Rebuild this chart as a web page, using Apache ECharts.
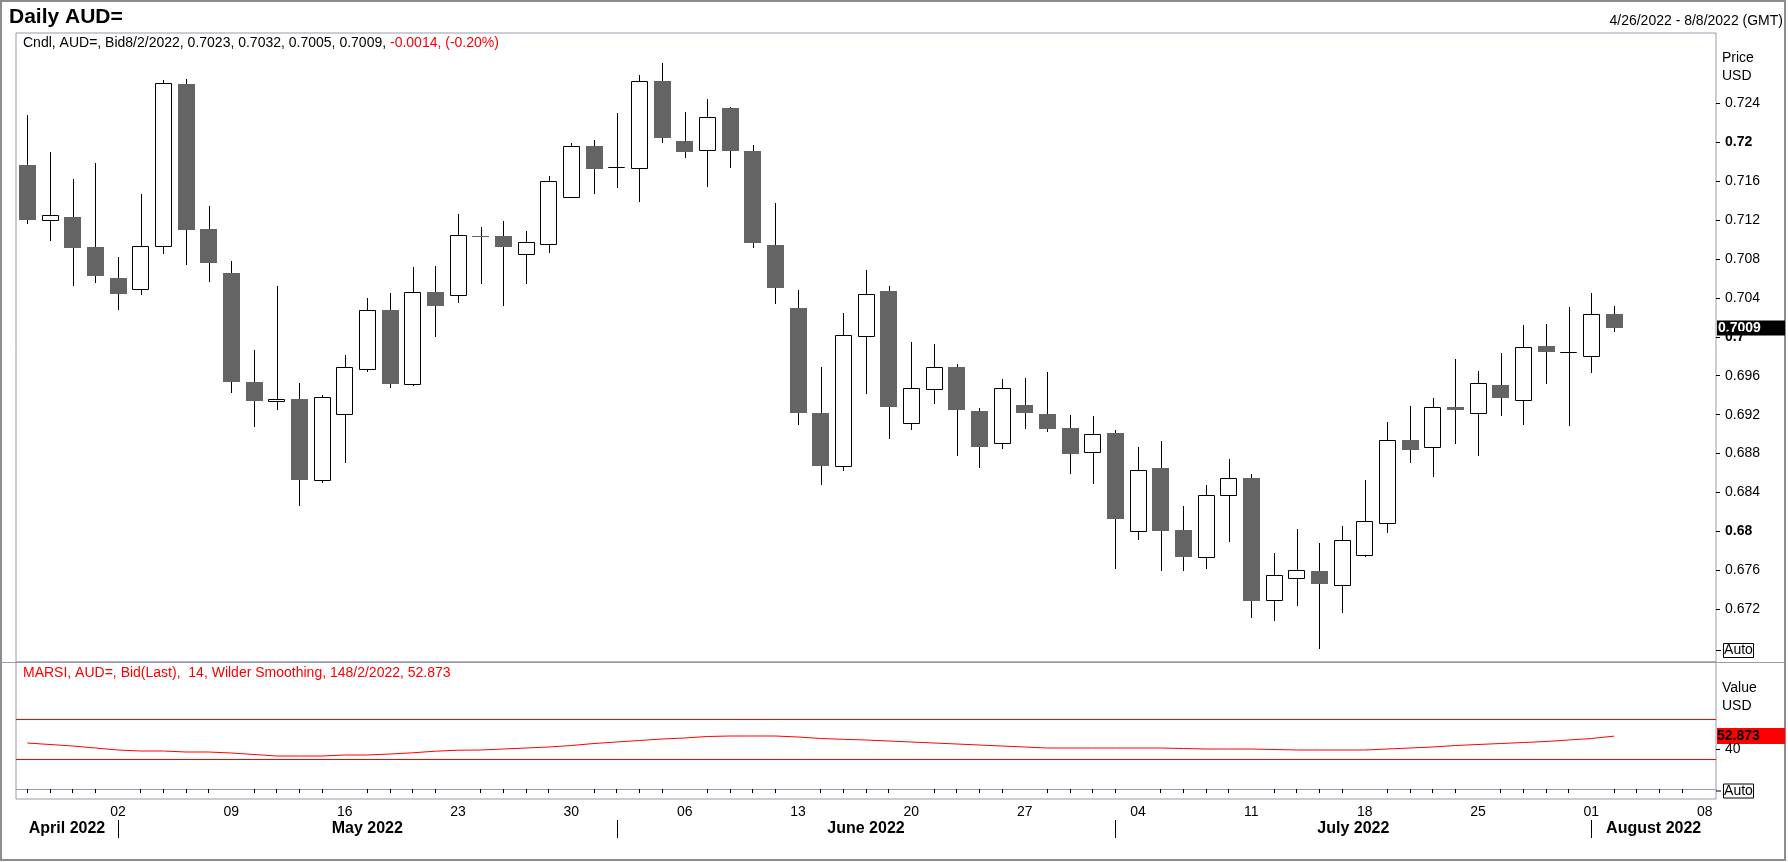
<!DOCTYPE html>
<html lang="en">
<head>
<meta charset="UTF-8">
<title>Daily AUD=</title>
<script src="https://cdn.jsdelivr.net/npm/echarts@6/dist/echarts.min.js"></script>
<style>
html, body { margin: 0; padding: 0; background: #fff; }
#chart { width: 1788px; height: 862px; }
</style>
</head>
<body>
<div id="chart"></div>
<script>
// trading days shown on the axis (last four are empty, the axis runs to 8/8)
var dates = [
  '2022-04-26','2022-04-27','2022-04-28','2022-04-29',
  '2022-05-02','2022-05-03','2022-05-04','2022-05-05','2022-05-06',
  '2022-05-09','2022-05-10','2022-05-11','2022-05-12','2022-05-13',
  '2022-05-16','2022-05-17','2022-05-18','2022-05-19','2022-05-20',
  '2022-05-23','2022-05-24','2022-05-25','2022-05-26','2022-05-27',
  '2022-05-30','2022-05-31','2022-06-01','2022-06-02','2022-06-03',
  '2022-06-06','2022-06-07','2022-06-08','2022-06-09','2022-06-10',
  '2022-06-13','2022-06-14','2022-06-15','2022-06-16','2022-06-17',
  '2022-06-20','2022-06-21','2022-06-22','2022-06-23','2022-06-24',
  '2022-06-27','2022-06-28','2022-06-29','2022-06-30','2022-07-01',
  '2022-07-04','2022-07-05','2022-07-06','2022-07-07','2022-07-08',
  '2022-07-11','2022-07-12','2022-07-13','2022-07-14','2022-07-15',
  '2022-07-18','2022-07-19','2022-07-20','2022-07-21','2022-07-22',
  '2022-07-25','2022-07-26','2022-07-27','2022-07-28','2022-07-29',
  '2022-08-01','2022-08-02','2022-08-03','2022-08-04','2022-08-05',
  '2022-08-08'
];

var openP = [
  0.7176, 0.7120, 0.7123, 0.7092, 0.7060, 0.7049, 0.7093, 0.7260, 0.7111, 0.7066,
  0.6954, 0.6934, 0.6936, 0.6853, 0.6921, 0.6967, 0.7028, 0.6952, 0.7046, 0.7043,
  0.7104, 0.7103, 0.7085, 0.7095, 0.7144, 0.7196, 0.7174, 0.7173, 0.7263, 0.7201,
  0.7192, 0.7235, 0.7191, 0.7094, 0.7030, 0.6922, 0.6867, 0.7001, 0.7047, 0.6911,
  0.6946, 0.6969, 0.6924, 0.6891, 0.6930, 0.6921, 0.6906, 0.6882, 0.6901, 0.6801,
  0.6865, 0.6802, 0.6774, 0.6837, 0.6855, 0.6730, 0.6752, 0.6759, 0.6745, 0.6776,
  0.6809, 0.6894, 0.6887, 0.6928, 0.6922, 0.6950, 0.6935, 0.6991, 0.6984, 0.6980,
  0.7023
];
var highP = [
  0.7228, 0.7190, 0.7162, 0.7178, 0.7082, 0.7147, 0.7264, 0.7265, 0.7134, 0.7078,
  0.6986, 0.7052, 0.6953, 0.6940, 0.6981, 0.7040, 0.7045, 0.7072, 0.7073, 0.7126,
  0.7113, 0.7119, 0.7109, 0.7165, 0.7199, 0.7202, 0.7230, 0.7269, 0.7281, 0.7231,
  0.7244, 0.7236, 0.7197, 0.7137, 0.7048, 0.6969, 0.7024, 0.7069, 0.7052, 0.6995,
  0.6993, 0.6972, 0.6927, 0.6957, 0.6958, 0.6964, 0.6920, 0.6919, 0.6904, 0.6887,
  0.6893, 0.6826, 0.6848, 0.6874, 0.6859, 0.6778, 0.6803, 0.6788, 0.6806, 0.6853,
  0.6912, 0.6929, 0.6937, 0.6977, 0.6965, 0.6983, 0.7012, 0.7013, 0.7031, 0.7045,
  0.7032
];
var lowP = [
  0.7116, 0.7098, 0.7052, 0.7055, 0.7027, 0.7043, 0.7085, 0.7074, 0.7056, 0.6942,
  0.6907, 0.6925, 0.6826, 0.6850, 0.6870, 0.6964, 0.6947, 0.6949, 0.7000, 0.7035,
  0.7054, 0.7032, 0.7054, 0.7086, 0.7143, 0.7147, 0.7153, 0.7138, 0.7199, 0.7184,
  0.7154, 0.7173, 0.7091, 0.7034, 0.6909, 0.6848, 0.6862, 0.6941, 0.6895, 0.6904,
  0.6931, 0.6878, 0.6865, 0.6885, 0.6905, 0.6902, 0.6859, 0.6849, 0.6761, 0.6791,
  0.6759, 0.6759, 0.6761, 0.6789, 0.6711, 0.6708, 0.6723, 0.6679, 0.6716, 0.6774,
  0.6799, 0.6870, 0.6856, 0.6890, 0.6878, 0.6919, 0.6909, 0.6952, 0.6908, 0.6963,
  0.7005
];
var closeP = [
  0.7120, 0.7125, 0.7091, 0.7062, 0.7044, 0.7093, 0.7261, 0.7110, 0.7076, 0.6954,
  0.6934, 0.6936, 0.6853, 0.6938, 0.6969, 0.7028, 0.6952, 0.7046, 0.7032, 0.7105,
  0.7102, 0.7092, 0.7097, 0.7160, 0.7196, 0.7172, 0.7174, 0.7263, 0.7204, 0.7190,
  0.7226, 0.7191, 0.7096, 0.7050, 0.6922, 0.6867, 0.7002, 0.7044, 0.6928, 0.6947,
  0.6969, 0.6925, 0.6887, 0.6947, 0.6922, 0.6905, 0.6880, 0.6900, 0.6813, 0.6863,
  0.6801, 0.6774, 0.6837, 0.6855, 0.6729, 0.6755, 0.6760, 0.6746, 0.6791, 0.6811,
  0.6894, 0.6884, 0.6928, 0.6925, 0.6953, 0.6937, 0.6990, 0.6984, 0.6984, 0.7023,
  0.7009
];
// MARSI 14, Wilder smoothing
var rsi = [
  46, 44.5, 43, 41, 39, 38, 38, 37, 37, 36,
  34.5, 33, 33, 33, 34, 34, 35, 36.2, 37.8, 38.8,
  39, 40, 41, 42, 43.5, 45.5, 47, 48.5, 50, 51,
  52.5, 53, 53, 53, 52, 50.5, 49.7, 49, 48, 47,
  46, 45, 44, 43, 42, 41, 41, 41, 41, 41,
  41, 40.5, 40, 40, 40, 39.5, 39, 39, 39, 39,
  40, 41, 42, 43.5, 44.5, 45.5, 46.5, 47.5, 49, 50.5,
  52.873
];
var priceTicks = [0.672, 0.676, 0.68, 0.684, 0.688, 0.692, 0.696, 0.7, 0.704, 0.708, 0.712, 0.716, 0.72, 0.724];
var rsiTicks = [40];
var rsiBands = [70, 30];
var monthNames = ['April 2022', 'May 2022', 'June 2022', 'July 2022', 'August 2022'];
var monthStarts = ['2022-04-26', '2022-05-02', '2022-06-01', '2022-07-01', '2022-08-01'];

var FONT = 'Liberation Sans, Arial, sans-serif';
var PANEL = '#9a9aaa';
var RED = '#ff0000';
var W = 1788, GL = 16, GR = 72;

function isMonday(d) {
    return new Date(d + 'T00:00:00Z').getUTCDay() === 1;
}
function usDate(d) {
    var p = d.split('-');
    return (+p[1]) + '/' + (+p[2]) + '/' + p[0];
}

var candleData = openP.map(function (o, i) {
    return [i, o, closeP[i], lowP[i], highP[i]];
});

function renderCandle(params, api) {
    var idx = api.value(0);
    var o = api.value(1), c = api.value(2), lo = api.value(3), hi = api.value(4);
    var pTop = api.coord([idx, Math.max(o, c)]);
    var pBot = api.coord([idx, Math.min(o, c)]);
    var pHi = api.coord([idx, hi]);
    var pLo = api.coord([idx, lo]);
    var w = Math.round(api.size([1, 0])[0] * 0.75);
    var x = Math.round(pTop[0]) + 0.5;
    var bx = Math.round(pTop[0] - w / 2);
    var by = Math.round(pTop[1]);
    var bh = Math.round(pBot[1]) - by;
    var kids = [{
        type: 'line',
        shape: { x1: x, y1: Math.round(pHi[1]), x2: x, y2: Math.round(pLo[1]) },
        style: { stroke: '#000', lineWidth: 1 }
    }];
    if (c >= o) {
        kids.push({
            type: 'rect',
            shape: { x: bx + 0.5, y: by + 0.5, width: w - 1, height: bh },
            style: { fill: '#fff', stroke: '#000', lineWidth: 1 }
        });
    } else {
        kids.push({
            type: 'rect',
            shape: { x: bx, y: by, width: w, height: Math.max(bh, 1) },
            style: { fill: '#646464' }
        });
    }
    return { type: 'group', children: kids };
}

function priceLabel(v) {
    var s = String(+v.toFixed(3));
    var round = Math.abs(v * 100 - Math.round(v * 100)) < 1e-6;
    return round ? '{b|' + s + '}' : s;
}

var chart = echarts.init(document.getElementById('chart'));

var option = {
    animation: false,
    backgroundColor: '#fff',
    textStyle: { fontFamily: FONT },
    grid: [
        { left: GL, right: GR, top: 33, height: 629, show: true, borderColor: PANEL, borderWidth: 1, backgroundColor: '#fff' },
        { left: GL, right: GR, top: 662, height: 137, show: true, borderColor: PANEL, borderWidth: 1, backgroundColor: '#fff' }
    ],
    xAxis: [
        { type: 'category', gridIndex: 0, data: dates, show: false },
        {
            type: 'category', gridIndex: 1, data: dates,
            axisLine: { show: true, lineStyle: { color: PANEL } },
            axisTick: {
                show: true, length: 4, alignWithLabel: true,
                interval: function (i, v) { return !isMonday(v); },
                lineStyle: { color: '#000' }
            },
            axisLabel: {
                show: true, margin: 6, color: '#000', fontSize: 14, fontFamily: FONT,
                interval: function (i, v) { return isMonday(v); },
                formatter: function (v) { return v.slice(8, 10); }
            },
            splitLine: { show: false }
        }
    ],
    yAxis: [
        {
            type: 'value', gridIndex: 0, position: 'right',
            min: 0.6666, max: 0.7312,
            splitLine: { show: false },
            axisLine: { show: false },
            axisTick: { show: true, length: 4, customValues: priceTicks, lineStyle: { color: '#000' } },
            axisLabel: {
                customValues: priceTicks, margin: 9, color: '#000', fontSize: 14, fontFamily: FONT,
                formatter: priceLabel,
                rich: { b: { fontWeight: 'bold', fontSize: 14, color: '#000', fontFamily: FONT } }
            }
        },
        {
            type: 'value', gridIndex: 1, position: 'right',
            min: -10, max: 127,
            splitLine: { show: false },
            axisLine: { show: false },
            axisTick: { show: true, length: 4, customValues: rsiTicks, lineStyle: { color: '#000' } },
            axisLabel: { customValues: rsiTicks, margin: 9, color: '#000', fontSize: 14, fontFamily: FONT }
        }
    ],
    series: [
        {
            name: 'Cndl',
            type: 'custom',
            xAxisIndex: 0,
            yAxisIndex: 0,
            renderItem: renderCandle,
            encode: { x: 0, y: [1, 2, 3, 4] },
            data: candleData,
            clip: true,
            silent: true
        },
        {
            name: 'MARSI',
            type: 'line',
            xAxisIndex: 1,
            yAxisIndex: 1,
            data: rsi,
            symbol: 'none',
            lineStyle: { color: RED, width: 1 },
            silent: true,
            markLine: {
                silent: true,
                symbol: ['none', 'none'],
                label: { show: false },
                lineStyle: { color: RED, width: 1, type: 'solid' },
                data: rsiBands.map(function (b) { return { yAxis: b }; })
            }
        }
    ]
};
chart.setOption(option);

// texts and boxes around the panels
var last = closeP.length - 1;
var chg = closeP[last] - closeP[last - 1];
var pct = chg / closeP[last - 1] * 100;
var lastDay = usDate(dates[last]);
var legendBlack = 'Cndl, AUD=, Bid' + lastDay + ', ' +
    [openP[last], highP[last], lowP[last], closeP[last]].map(function (v) { return v.toFixed(4); }).join(', ') + ', ';
var legendRed = chg.toFixed(4) + ', (' + pct.toFixed(2) + '%)';
var rsiText = 'MARSI, AUD=, Bid(Last),  14, Wilder Smoothing, 14' + lastDay + ', ' + rsi[last].toFixed(3);

function txt(x, y, s, size, weight, color, align) {
    return {
        type: 'text', x: x, y: y, silent: true,
        style: {
            text: s, fontSize: size, fontWeight: weight || 'normal', fontFamily: FONT,
            fill: color || '#000', align: align || 'left', verticalAlign: 'middle'
        }
    };
}
function autoBox(y) {
    return [
        { type: 'line', shape: { x1: W - GR, y1: y + 0.5, x2: W - GR + 5, y2: y + 0.5 }, style: { stroke: '#000', lineWidth: 1 } },
        { type: 'rect', shape: { x: 1723.5, y: y - 6.5, width: 30, height: 14 }, style: { fill: '#fff', stroke: '#000', lineWidth: 1 } },
        txt(1738.5, y + 0.5, 'Auto', 14, 'normal', '#000', 'center')
    ];
}

var g = [];
g.push({ type: 'rect', shape: { x: 1, y: 1, width: 1784, height: 859 }, style: { fill: 'none', stroke: '#8c8c8c', lineWidth: 2 } });
g.push({ type: 'line', shape: { x1: 1, y1: 662.5, x2: 1785, y2: 662.5 }, style: { stroke: PANEL, lineWidth: 1 } });
g.push(txt(9, 17, 'Daily AUD=', 21, 'bold'));
g.push(txt(1783, 21.5, usDate(dates[0]) + ' - ' + usDate(dates[dates.length - 1]) + ' (GMT)', 14, 'normal', '#000', 'right'));
g.push({
    type: 'text', x: 23, y: 43.5, silent: true,
    style: {
        text: '{k|' + legendBlack + '}{r|' + legendRed + '}',
        fontSize: 14, fontFamily: FONT, verticalAlign: 'middle',
        rich: {
            k: { fill: '#000', fontSize: 14, fontFamily: FONT },
            r: { fill: RED, fontSize: 14, fontFamily: FONT }
        }
    }
});
g.push(txt(23, 673, rsiText, 14, 'normal', RED));
g.push(txt(1722, 58, 'Price', 14));
g.push(txt(1722, 76, 'USD', 14));
g.push(txt(1722, 688, 'Value', 14));
g.push(txt(1722, 706, 'USD', 14));
g = g.concat(autoBox(650), autoBox(790.5));

// last value badges
var yc = chart.convertToPixel({ yAxisIndex: 0 }, closeP[last]);
g.push({ type: 'rect', shape: { x: 1717, y: Math.round(yc) - 7.5, width: 68, height: 15 }, style: { fill: '#000' } });
g.push(txt(1718, Math.round(yc), closeP[last].toFixed(4), 14, 'bold', '#fff'));
var yr = chart.convertToPixel({ yAxisIndex: 1 }, rsi[last]);
g.push({ type: 'rect', shape: { x: 1717, y: Math.round(yr) - 8, width: 68, height: 16 }, style: { fill: RED } });
g.push(txt(1717, Math.round(yr), rsi[last].toFixed(3), 14, 'bold', '#000'));

// month row under the day labels
var xs = monthStarts.map(function (d) { return chart.convertToPixel({ xAxisIndex: 1 }, d); });
monthNames.forEach(function (name, i) {
    var x0 = i === 0 ? GL : xs[i];
    var x1 = i === monthNames.length - 1 ? W - GR : xs[i + 1];
    g.push(txt((x0 + x1) / 2, 829, name, 16, 'bold', '#000', 'center'));
    if (i > 0) {
        var sx = Math.round(xs[i]) + 0.5;
        g.push({ type: 'line', shape: { x1: sx, y1: 820, x2: sx, y2: 838 }, style: { stroke: '#000', lineWidth: 1 } });
    }
});

chart.setOption({ graphic: g });
</script>
</body>
</html>
